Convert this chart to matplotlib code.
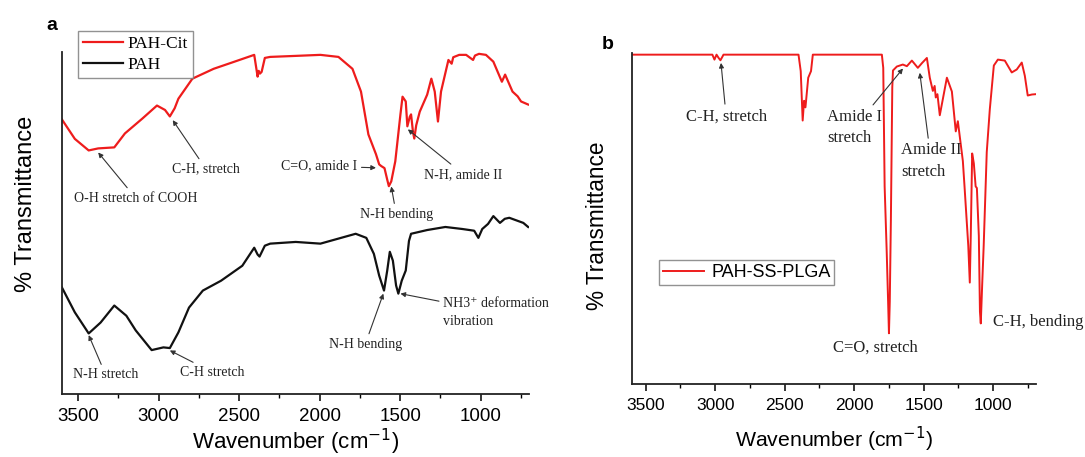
import matplotlib
matplotlib.use('Agg')
import matplotlib.pyplot as plt
from matplotlib.ticker import MultipleLocator

# panel a, PAH-Cit (red)
cit_wn = [3600, 3520, 3434, 3375, 3275, 3209, 3100, 3010, 2960, 2930, 2900, 2877, 2790, 2658, 2547,
          2406, 2385, 2378, 2370, 2360, 2340, 2307, 2148, 1995, 1883, 1796, 1743, 1697, 1650, 1630,
          1617, 1597, 1580, 1570, 1555, 1530, 1498, 1485, 1465, 1455, 1440, 1432, 1420, 1412, 1400,
          1378, 1332, 1306, 1285, 1265, 1246, 1200, 1180, 1170, 1133, 1090, 1047, 1035, 1010, 967,
          921, 868, 848, 802, 770, 749, 705]
cit_t = [80.7, 75.0, 71.6, 72.2, 72.5, 76.6, 81.0, 84.8, 83.5, 81.6, 84.0, 86.8, 92.7, 95.6, 97.4,
         99.7, 93.3, 95.0, 94.2, 94.7, 98.8, 99.1, 99.4, 99.7, 99.1, 95.6, 88.9, 76.3, 70.5, 67.5,
         67.0, 66.4, 63.0, 61.1, 62.5, 68.4, 82.2, 87.4, 86.0, 78.7, 81.5, 82.2, 77.0, 75.1, 79.0,
         83.0, 88.0, 92.7, 88.9, 80.1, 88.9, 98.2, 97.1, 99.0, 99.7, 99.7, 98.2, 99.5, 100.0, 99.7,
         97.7, 91.8, 93.9, 88.9, 87.5, 86.0, 85.1]

# panel a, PAH (black)
pah_wn = [3600, 3520, 3434, 3360, 3275, 3200, 3142, 3043, 2970, 2930, 2877, 2811, 2725, 2612, 2480,
          2406, 2385, 2373, 2340, 2307, 2148, 1995, 1776, 1710, 1663, 1630, 1600, 1580, 1564, 1545,
          1525, 1511, 1490, 1465, 1445, 1432, 1332, 1219, 1113, 1040, 1014, 990, 954, 921, 880,
          850, 822, 735, 705]
pah_t = [31.3, 24.0, 17.8, 21.0, 26.0, 23.0, 18.7, 12.9, 13.7, 13.5, 18.1, 25.4, 30.4, 33.3, 37.7,
         43.0, 41.0, 40.4, 43.6, 44.2, 44.7, 44.2, 47.1, 45.9, 41.2, 34.8, 30.4, 36.3, 41.8, 39.2,
         31.9, 29.5, 33.3, 36.3, 45.0, 47.1, 48.2, 49.1, 48.5, 48.0, 45.9, 48.5, 50.0, 52.3, 50.3,
         51.5, 51.8, 50.3, 49.1]

# panel b, PAH-SS-PLGA (red)
plga_wn = [3600, 3020, 3005, 2990, 2975, 2962, 2950, 2940, 2400, 2384, 2370, 2360, 2350, 2330, 2310,
           2297, 1800, 1790, 1780, 1765, 1755, 1749, 1743, 1735, 1725, 1720, 1692, 1649, 1620, 1584,
           1541, 1510, 1476, 1455, 1433, 1420, 1412, 1400, 1383, 1332, 1296, 1268, 1253, 1217, 1205,
           1190, 1178, 1167, 1160, 1150, 1138, 1125, 1116, 1102, 1094, 1088, 1078, 1067, 1045, 1023,
           994, 965, 915, 865, 829, 793, 771, 750, 720, 693]
plga_t = [100, 100, 98.5, 100, 99.0, 98.3, 99.2, 100, 100, 95.0, 80.0, 86.0, 84.0, 93.0, 95.0,
          100, 100, 96.0, 60.0, 40.0, 25.0, 15.4, 25.0, 50.0, 90.0, 95.2, 96.4, 97.0, 96.5, 98.2,
          96.0, 97.5, 99.0, 93.0, 89.0, 90.5, 87.0, 88.0, 81.6, 93.0, 88.8, 76.7, 79.8, 67.7, 60.0,
          50.0, 42.0, 30.8, 45.0, 70.0, 67.0, 60.0, 59.5, 45.0, 22.0, 18.4, 30.0, 42.0, 70.4, 83.4,
          96.7, 98.5, 98.2, 94.6, 95.5, 97.6, 93.6, 87.6, 87.9, 88.0]

xticks = [3500, 3000, 2500, 2000, 1500, 1000]

serif = ['Liberation Serif', 'DejaVu Serif']
sans = ['Liberation Sans', 'DejaVu Sans']
plt.rcParams['font.family'] = sans

fig = plt.figure(figsize=(10.85, 4.57), dpi=100)
ax1 = fig.add_axes([0.0571, 0.1379, 0.4304, 0.748])
ax2 = fig.add_axes([0.5823, 0.1597, 0.3726, 0.7243])

arrow = dict(arrowstyle='-|>', color='#333333', lw=0.8, mutation_scale=7, shrinkA=1, shrinkB=0)


def style_axis(ax, right, tick_size, lab_size, xlab_y, ylab_xy):
    ax.set_xlim(3600, right)
    ax.set_ylim(0, 100.5)
    ax.set_xticks(xticks)
    ax.xaxis.set_minor_locator(MultipleLocator(250))
    ax.set_yticks([])
    for s in ['top', 'right']:
        ax.spines[s].set_visible(False)
    for s in ['left', 'bottom']:
        ax.spines[s].set_linewidth(1.3)
        ax.spines[s].set_color('#222222')
    ax.tick_params(axis='x', which='major', length=5, width=1.1, labelsize=tick_size, pad=5)
    ax.tick_params(axis='x', which='minor', length=3, width=1.0)
    ax.set_xlabel('Wavenumber (cm$^{-1}$)', fontsize=lab_size)
    ax.xaxis.set_label_coords(0.5, xlab_y)
    ax.xaxis.label.set_verticalalignment('baseline')
    ax.set_ylabel('% Transmittance', fontsize=lab_size + 1.0)
    ax.yaxis.set_label_coords(*ylab_xy)
    ax.yaxis.label.set_verticalalignment('center')


def note(ax, txt, tip, pos, size, ha='center'):
    ax.annotate(txt, xy=tip, xytext=pos, ha=ha, va='center', fontsize=size,
                family=serif, color='#222222', linespacing=1.45, arrowprops=arrow)


def label(ax, txt, pos, size, ha='center'):
    ax.text(pos[0], pos[1], txt, ha=ha, va='center', fontsize=size,
            family=serif, color='#222222')


# panel a
ax1.plot(cit_wn, cit_t, color='#ee1c1c', lw=1.6, label='PAH-Cit')
ax1.plot(pah_wn, pah_t, color='#111111', lw=1.6, label='PAH')
style_axis(ax1, 700, 13.5, 16.0, -0.162, (-0.077, 0.556))
ax1.legend(loc='upper left', bbox_to_anchor=(0.0719, 0.932), bbox_transform=fig.transFigure,
           prop={'family': serif, 'size': 12.5},
           frameon=True, fancybox=False, edgecolor='#777777', handlelength=2.3,
           handletextpad=0.25, borderpad=0.3, labelspacing=0.27, borderaxespad=0)

fa = 10
note(ax1, 'O-H stretch of COOH', (3375, 71.0), (3142, 57.6), fa)
note(ax1, 'C-H, stretch', (2912, 80.5), (2705, 66.1), fa)
note(ax1, 'C=O, amide I', (1650, 66.5), (2002, 67.0), fa)
note(ax1, 'N-H bending', (1555, 61.0), (1524, 52.9), fa)
note(ax1, 'N-H, amide II', (1452, 77.8), (1107, 64.6), fa)
note(ax1, 'N-H stretch', (3434, 17.3), (3328, 5.6), fa)
note(ax1, 'C-H stretch', (2930, 12.8), (2665, 6.4), fa)
note(ax1, 'N-H bending', (1604, 29.5), (1717, 14.6), fa)
note(ax1, 'NH3\u207a deformation\nvibration', (1498, 29.5), (1233, 24.0), fa, ha='left')

# panel b
ax2.plot(plga_wn, plga_t, color='#ee1c1c', lw=1.4, label='PAH-SS-PLGA')
style_axis(ax2, 690, 12.5, 15.3, -0.19, (-0.086, 0.477))
ax2.legend(loc='center left', bbox_to_anchor=(0.6074, 0.4037), bbox_transform=fig.transFigure,
           prop={'family': sans, 'size': 13},
           frameon=True, fancybox=False, edgecolor='#777777', handlelength=2.3,
           handletextpad=0.4, borderpad=0.2, borderaxespad=0)

fb = 12
note(ax2, 'C-H, stretch', (2958, 97.5), (2921, 81.3), fb)
note(ax2, 'Amide I\nstretch', (1648, 95.8), (2195, 77.9), fb, ha='left')
note(ax2, 'Amide II\nstretch', (1527, 94.5), (1663, 67.7), fb, ha='left')
label(ax2, 'C=O, stretch', (1850, 10.9), fb)
label(ax2, 'C-H, bending', (1000, 18.7), fb, ha='left')

fig.text(0.0424, 0.934, 'a', fontsize=14, fontweight='bold')
fig.text(0.555, 0.893, 'b', fontsize=14, fontweight='bold')

fig.savefig('out.png', dpi=100)
